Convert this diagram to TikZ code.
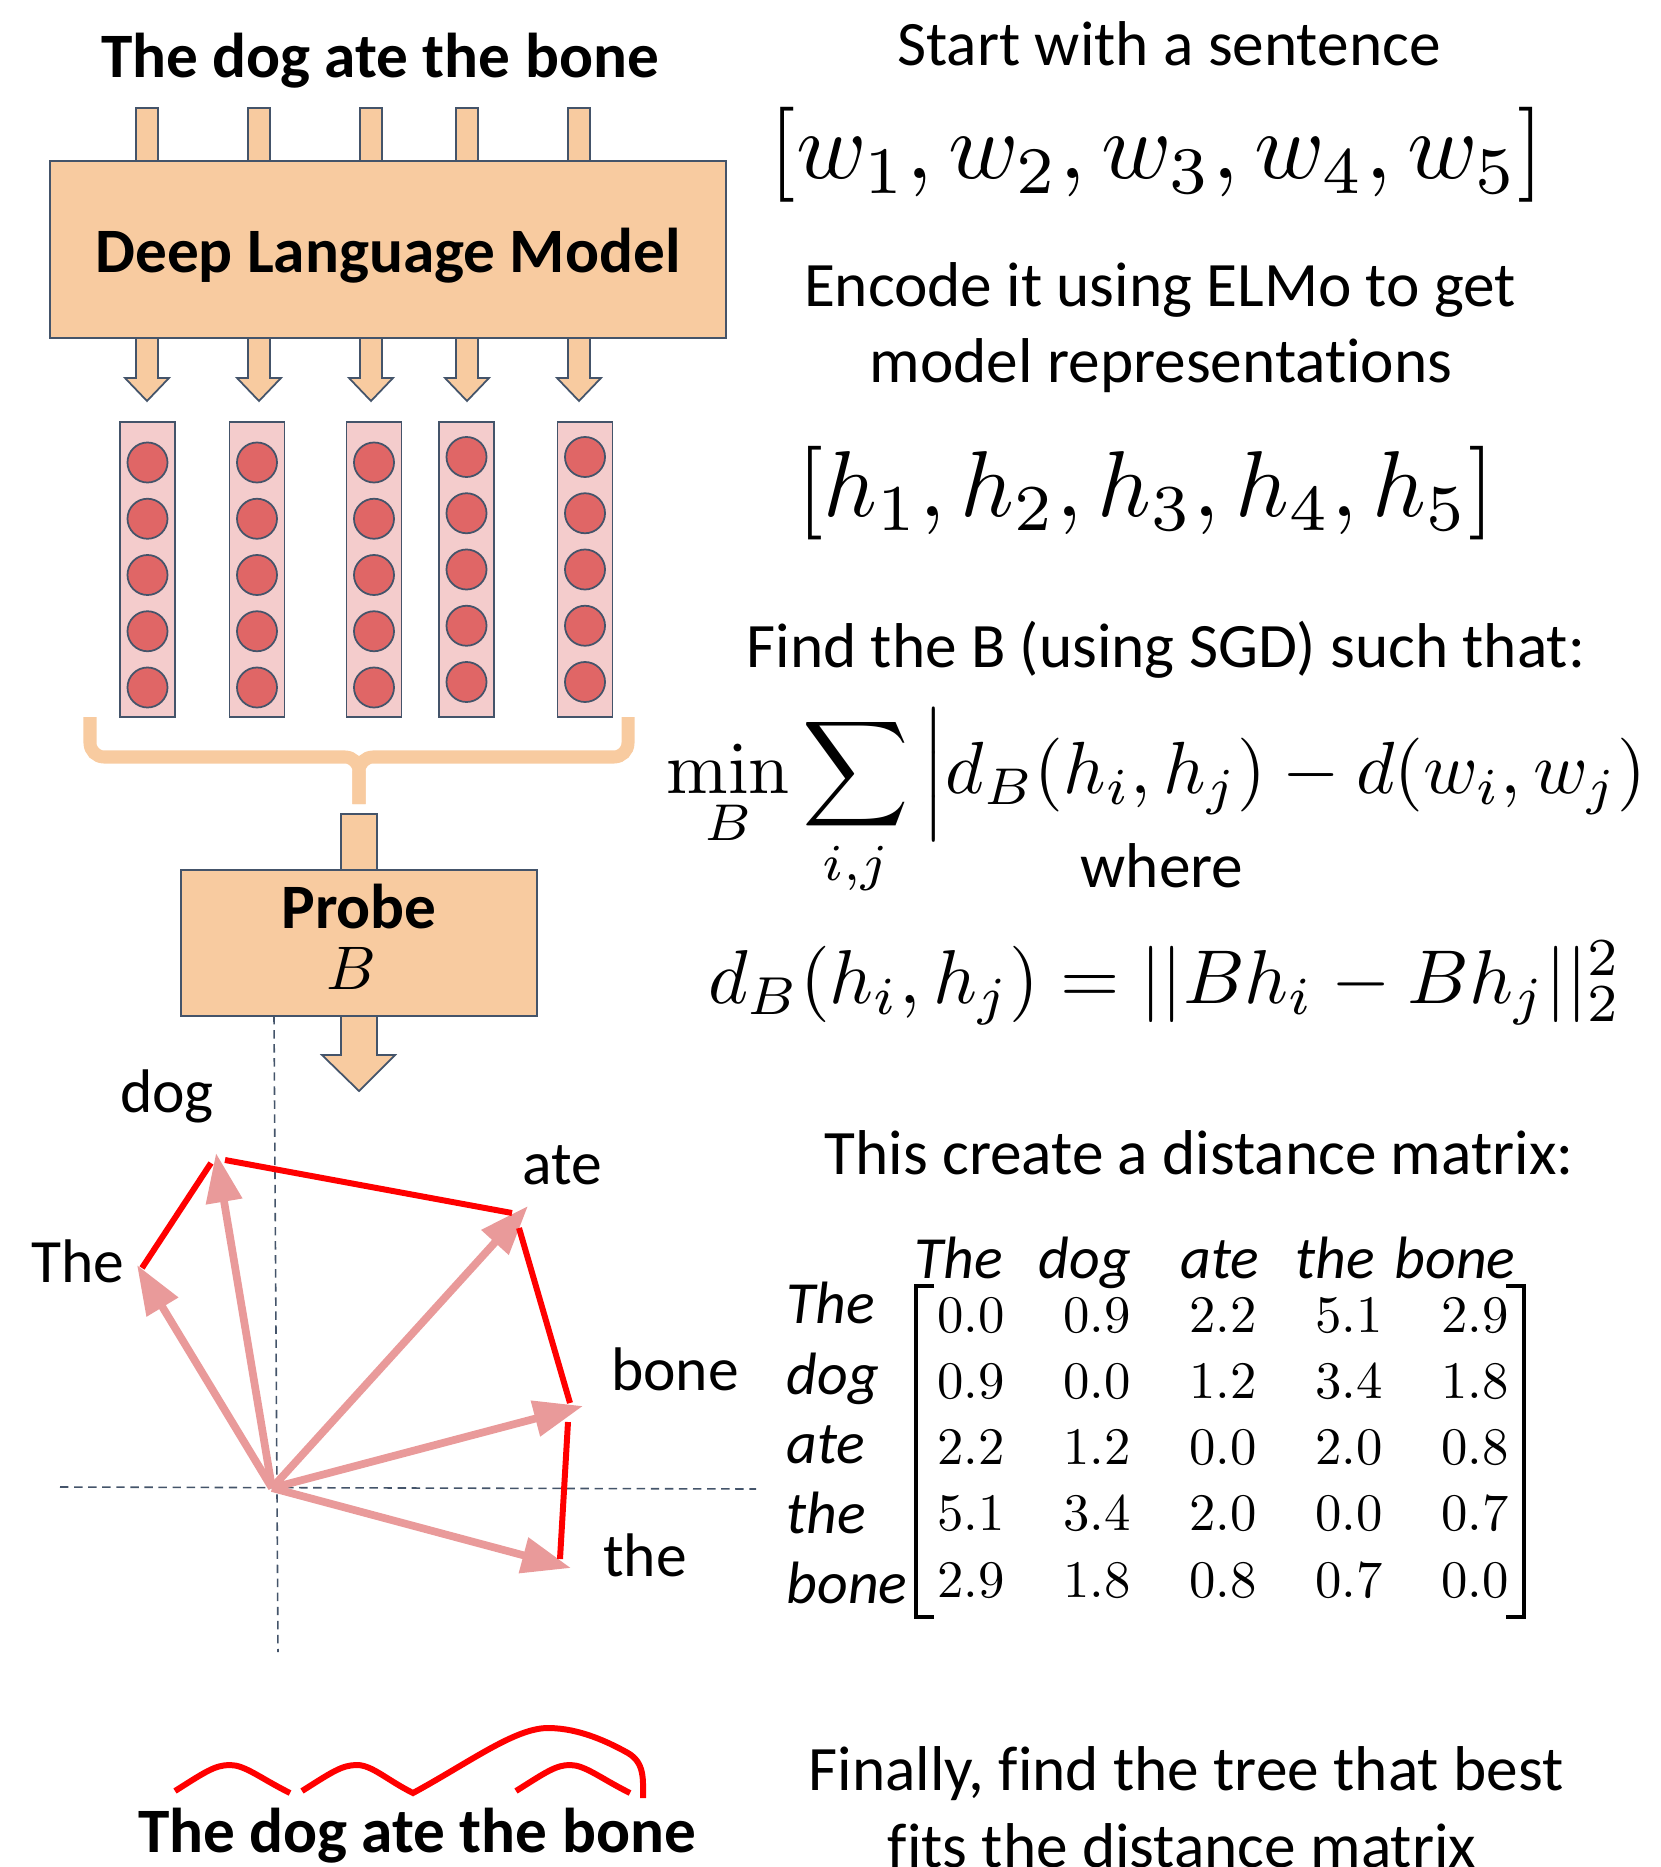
\RequirePackage{fix-cm}
\documentclass[tikz,border=0pt]{standalone}
\usepackage{amsmath}
\usepackage[no-math]{fontspec}
\setmainfont[Ligatures=NoCommon]{Carlito}
\usetikzlibrary{arrows.meta}

\definecolor{peach}{RGB}{248,203,160}
\definecolor{slate}{RGB}{68,84,106}
\definecolor{cellpink}{RGB}{244,204,204}
\definecolor{unitred}{RGB}{224,102,102}
\definecolor{vecpink}{RGB}{233,154,154}

\begin{document}
\begin{tikzpicture}[x=0.01cm,y=-0.01cm,>=Stealth,
    block/.style={draw=slate,fill=peach,line width=.5pt},
    layer/.style={draw=slate,fill=cellpink,line width=.5pt,minimum width=.55cm,minimum height=2.95cm,inner sep=0pt},
    unit/.style={circle,draw=slate,fill=unitred,line width=.5pt,minimum size=.4cm,inner sep=0pt},
    brace/.style={peach,line width=3.7pt,rounded corners=4pt},
    axis/.style={slate,line width=.45pt,dash pattern=on 2.4pt off 1.6pt},
    vec/.style={vecpink,line width=2.2pt,-{Triangle[length=14pt,width=10pt]}},
    tree/.style={red,line width=1.7pt},
    heading/.style={font=\fontsize{18}{21.6}\selectfont\bfseries,anchor=base,inner sep=0pt},
    note/.style={font=\fontsize{18}{21.6}\selectfont,anchor=base,inner sep=0pt},
    word/.style={font=\fontsize{17.5}{21}\selectfont,anchor=base,inner sep=0pt},
    tag/.style={font=\fontsize{17}{20.4}\selectfont\itshape,anchor=base,inner sep=0pt},
    formula/.style={anchor=base,inner sep=0pt}]
  \useasboundingbox (0,0) rectangle (1661,1867);

  % left column: language model
  \node[heading] (title) at (380,78) {The dog ate the bone};
  \foreach \cx in {147,259,371,467,579}{
    \draw[block] (\cx-11,108) rectangle (\cx+11,161);
    \draw[block] (\cx-11,338) -- (\cx-11,378) -- (\cx-22,378) -- (\cx,401)
      -- (\cx+22,378) -- (\cx+11,378) -- (\cx+11,338);
  }
  \node[block,minimum width=6.76cm,minimum height=1.77cm] (dlm) at (388,249.5) {};
  \node[heading] (dlm-text) at (388,273) {Deep Language Model};

  % hidden states
  \foreach \cx/\ytop [count=\i] in {147.5/462.5,257/462.5,374/462.5,466.5/457,585/457}{
    \node[layer] (h-\i) at (\cx,569.5) {};
    \foreach \j in {0,...,4}
      \node[unit] (u-\i-\j) at (\cx,\ytop+56.25*\j) {};
  }
  \draw[brace] (90,717) |- (359,757) -- (359,804);
  \draw[brace] (628,717) |- (359,757) -- (359,804);

  % probe
  \draw[block] (341,814) rectangle (377,870);
  \draw[block] (341,1016) -- (341,1055) -- (322,1055) -- (359,1091)
    -- (395,1055) -- (377,1055) -- (377,1016);
  \node[block,minimum width=3.56cm,minimum height=1.46cm] (probe) at (359,943) {};
  \node[heading] (probe-name) at (359,928) {Probe};
  \node[formula] (probe-b) at (351,989) {\scalebox{1.75}{$B$}};

  % probe space
  \draw[axis] (274,1016) -- (278,1652);
  \draw[axis] (60,1487) -- (756,1489);
  \coordinate (o) at (272,1488);
  \foreach \w/\px/\py/\lx/\ly in {The/137/1265/78/1282, dog/216/1153/167/1112,
      ate/528/1206/562/1184, bone/583/1406/675/1390, the/571/1568/645/1576}{
    \coordinate (t-\w) at (\px,\py);
    \draw[vec] (o) -- (t-\w);
    \node[word] (l-\w) at (\lx,\ly) {\w};
  }
  \draw[tree] ([shift={(5,3)}]t-The) -- ([shift={(-5,10)}]t-dog);
  \draw[tree] ([shift={(9,7)}]t-dog) -- ([shift={(-16,7)}]t-ate);
  \draw[tree] ([shift={(-9,22)}]t-ate) -- ([shift={(-13,-3)}]t-bone);
  \draw[tree] ([shift={(-15,16)}]t-bone) -- ([shift={(-11,-9)}]t-the);

  % parse tree
  \node[heading] (sentence) at (417,1852) {The dog ate the bone};
  \draw[tree] (175,1791) .. controls (205,1772) and (215,1765) .. (230,1765)
    .. controls (245,1765) and (260,1778) .. (290,1793);
  \draw[tree] (302,1791) .. controls (332,1772) and (342,1765) .. (357,1765)
    .. controls (372,1765) and (387,1780) .. (413,1793)
    .. controls (470,1762) and (515,1728) .. (548,1728)
    .. controls (580,1728) and (610,1743) .. (628,1753)
    .. controls (645,1763) and (643,1780) .. (643,1798);
  \draw[tree] (516,1791) .. controls (546,1772) and (556,1765) .. (570,1765)
    .. controls (585,1765) and (600,1778) .. (630,1793);

  % right column
  \foreach \tx/\ty/\tt [count=\n] in {1169/66/Start with a sentence,
      1160/307/Encode it using ELMo to get, 1161/383/model representations,
      1166/667/{Find the B (using SGD) such that:}, 1162/887/where,
      1199/1174/This create a distance matrix:,
      1186/1790/{Finally, find the tree that best}, 1182/1867/fits the distance matrix}
    \node[note] (note-\n) at (\tx,\ty) {\tt};
  \node[formula] (words) at (1157,179) {\scalebox{2.7}{$[w_1, w_2, w_3, w_4, w_5]$}};
  \node[formula] (states) at (1146,516) {\scalebox{2.66}{$[h_1, h_2, h_3, h_4, h_5]$}};
  \node[formula,anchor=base west] (objective) at (666,793)
    {\scalebox{2.1}{$\displaystyle\min_B\sum_{i,j}\Big|d_B(h_i,h_j)-d(w_i,w_j)$}};
  \node[formula] (metric) at (1165,1003) {\scalebox{2.17}{$d_B(h_i,h_j)=||Bh_i-Bh_j||_2^2$}};

  % distance matrix
  \foreach \w/\wx in {The/959, dog/1085, ate/1220, the/1335, bone/1455}
    \node[tag] (c-\w) at (\wx,1278) {\w};
  \foreach \w/\wy in {The/1323, dog/1394, ate/1463, the/1533, bone/1603}
    \node[tag,anchor=base west] (r-\w) at (786,\wy) {\w};
  \foreach \vals [count=\r] in {{0.0,0.9,2.2,5.1,2.9},{0.9,0.0,1.2,3.4,1.8},
      {2.2,1.2,0.0,2.0,0.8},{5.1,3.4,2.0,0.0,0.7},{2.9,1.8,0.8,0.7,0.0}}{
    \foreach \v [count=\c] in \vals
      \node[formula] (m-\r-\c) at ({845+126*\c},{1332+66.25*(\r-1)}) {\scalebox{1.5}{$\v$}};
  }
  \draw[line width=.9pt] (934,1286) -| (916,1617) -- (934,1617);
  \draw[line width=.9pt] (1506,1286) -| (1524,1617) -- (1506,1617);
\end{tikzpicture}
\end{document}
